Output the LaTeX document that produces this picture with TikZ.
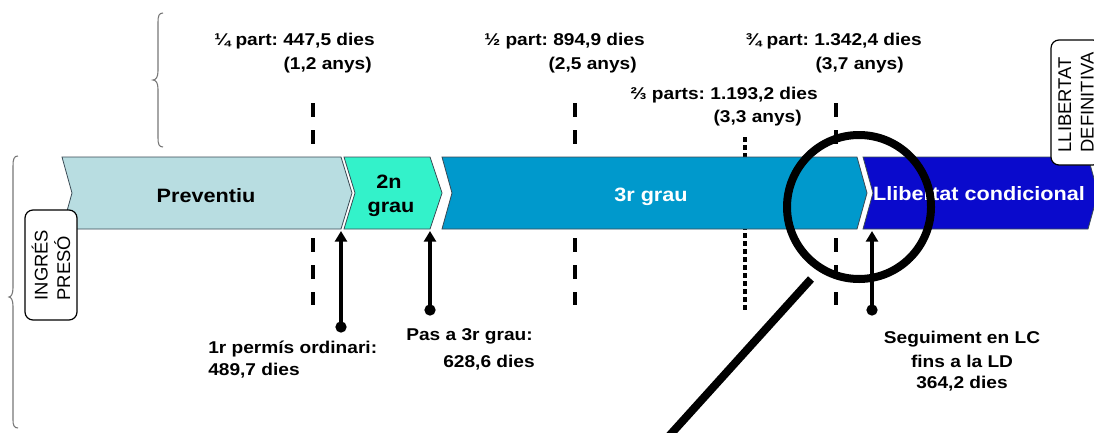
\documentclass[tikz,border=0pt]{standalone}
\usepackage{fontspec}
\newfontfamily\bfs{Liberation Sans}[FakeStretch=1.12]
\newfontfamily\rgs{Liberation Sans}
\usetikzlibrary{arrows.meta}
\definecolor{prev}{HTML}{B8DDE1}
\definecolor{segon}{HTML}{33F2CA}
\definecolor{tercer}{HTML}{0099CC}
\definecolor{llib}{HTML}{0A0ACC}
\definecolor{outl}{HTML}{3A4A55}
\definecolor{brc}{HTML}{777777}
\frenchspacing
\begin{document}
\begin{tikzpicture}[x=0.75pt,y=-0.75pt,
  lbl/.style={font=\bfs\bfseries\fontsize{12.8}{15}\selectfont, inner sep=0pt},
  barlbl/.style={font=\bfs\bfseries\fontsize{14.5}{17}\selectfont, inner sep=0pt},
  bar/.style={draw=outl, line width=0.6pt},
  vbox/.style={draw=black, line width=0.9pt, fill=white, rounded corners=6pt, rotate=90,
    font=\rgs\fontsize{13.8}{17}\selectfont, align=left, inner sep=0pt},
  dashv/.style={line width=3.4pt, dash pattern=on 10.5pt off 9.75pt},
  dotv/.style={line width=3.2pt, dash pattern=on 3.4pt off 2.6pt},
  pointer/.style={line width=2.8pt, -{Triangle[width=9pt,length=8pt]}},
  dotc/.style={circle, fill=black, inner sep=0pt, minimum size=8.5pt},
  brace/.style={draw=brc, line width=0.8pt},
  lens/.style={line width=6pt}
]
\useasboundingbox (0,0) rectangle (1094,432);
\clip (0,0) rectangle (1094,432);
\fill[white] (0,0) rectangle (1094,432);

% braces
\draw[brace] (163,13) .. controls (159,13) and (158,16) .. (158,22) -- (158,71)
  .. controls (158,77) and (156,80) .. (153,80) .. controls (156,80) and (158,83) .. (158,89)
  -- (158,138) .. controls (158,144) and (159,147) .. (163,147);
\draw[brace] (18,156) .. controls (14,156) and (13,159) .. (13,166) -- (13,288)
  .. controls (13,294) and (11,297) .. (9,297) .. controls (11,297) and (13,300) .. (13,306)
  -- (13,420) .. controls (13,425) and (14,428) .. (18,428);

% vertical markers
\coordinate (m1t) at (313,103); \coordinate (m1b) at (313,305);
\coordinate (m2t) at (575,103); \coordinate (m2b) at (575,305);
\coordinate (m3t) at (836,103); \coordinate (m3b) at (836,305);
\coordinate (m4t) at (745,137); \coordinate (m4b) at (745,310);
\draw[dashv] (m1t) -- (m1b);
\draw[dashv] (m2t) -- (m2b);
\draw[dashv] (m3t) -- (m3b);
\draw[dotv] (m4t) -- (m4b);

% bars
\draw[bar, fill=prev] (62,157) -- (341,157) -- (352,193) -- (341,229) -- (62,229) -- (72,193) -- cycle;
\draw[bar, fill=segon] (344,157) -- (430,157) -- (442,193) -- (430,229) -- (344,229) -- (355,193) -- cycle;
\draw[bar, fill=tercer] (442,157) -- (857,157) -- (867,193) -- (857,229) -- (442,229) -- (452,193) -- cycle;
\draw[bar, fill=llib] (863,157) -- (1088,157) -- (1098,193) -- (1088,229) -- (863,229) -- (873,193) -- cycle;

\node[barlbl, anchor=base] (prevlbl) at (206,202) {Preventiu};
\node[barlbl, anchor=base] (segon1) at (389,188) {2n};
\node[barlbl, anchor=base] (segon2) at (391,212) {grau};
\node[barlbl, anchor=base, text=white] (tercerlbl) at (651,201) {3r grau};
\node[barlbl, anchor=base, text=white] (lliblbl) at (979,200) {Llibertat condicional};

% pointers
\node[dotc] (d1) at (341,327) {};
\node[dotc] (d2) at (430,310) {};
\node[dotc] (d3) at (872,310) {};
\coordinate (a1) at (341,231);
\coordinate (a2) at (430,231);
\coordinate (a3) at (872,231);
\draw[pointer] (d1.center) -- (a1);
\draw[pointer] (d2.center) -- (a2);
\draw[pointer] (d3.center) -- (a3);

% boxes
\node[vbox, minimum width=82.5pt, minimum height=39pt] (ingres) at (51,265) {INGRÉS\\PRESÓ};
\node[vbox, minimum width=93.75pt, minimum height=37.5pt] (llibdef) at (1076,102.5) {LLIBERTAT\\DEFINITIVA};

% labels
\node[lbl, anchor=base east] (q1a) at (375,45) {¼ part: 447,5 dies};
\node[lbl, anchor=base east] (q1b) at (372,69) {(1,2 anys)};
\node[lbl, anchor=base east] (h1a) at (645,45) {½ part: 894,9 dies};
\node[lbl, anchor=base east] (h1b) at (637,69) {(2,5 anys)};
\node[lbl, anchor=base east] (t1a) at (922,45) {¾ part: 1.342,4 dies};
\node[lbl, anchor=base east] (t1b) at (904,69) {(3,7 anys)};
\node[lbl, anchor=base east] (d3a) at (818,99) {⅔ parts: 1.193,2 dies};
\node[lbl, anchor=base east] (d3b) at (802,122) {(3,3 anys)};
\node[lbl, anchor=base west] (p1a) at (208,353) {1r permís ordinari:};
\node[lbl, anchor=base west] (p1b) at (208,375) {489,7 dies};
\node[lbl, anchor=base east] (p2a) at (533,340) {Pas a 3r grau:};
\node[lbl, anchor=base east] (p2b) at (535,367) {628,6 dies};
\node[lbl, anchor=base] (s1) at (962,343) {Seguiment en LC};
\node[lbl, anchor=base] (s2) at (962,367) {fins a la LD};
\node[lbl, anchor=base] (s3) at (962,388) {364,2 dies};

% magnifier
\coordinate (lensc) at (859,207);
\draw[lens] (lensc) circle[radius=72];
\coordinate (h1) at (811,279);
\coordinate (h2) at (660,446);
\draw[lens] (h1) -- (h2);
\end{tikzpicture}
\end{document}
